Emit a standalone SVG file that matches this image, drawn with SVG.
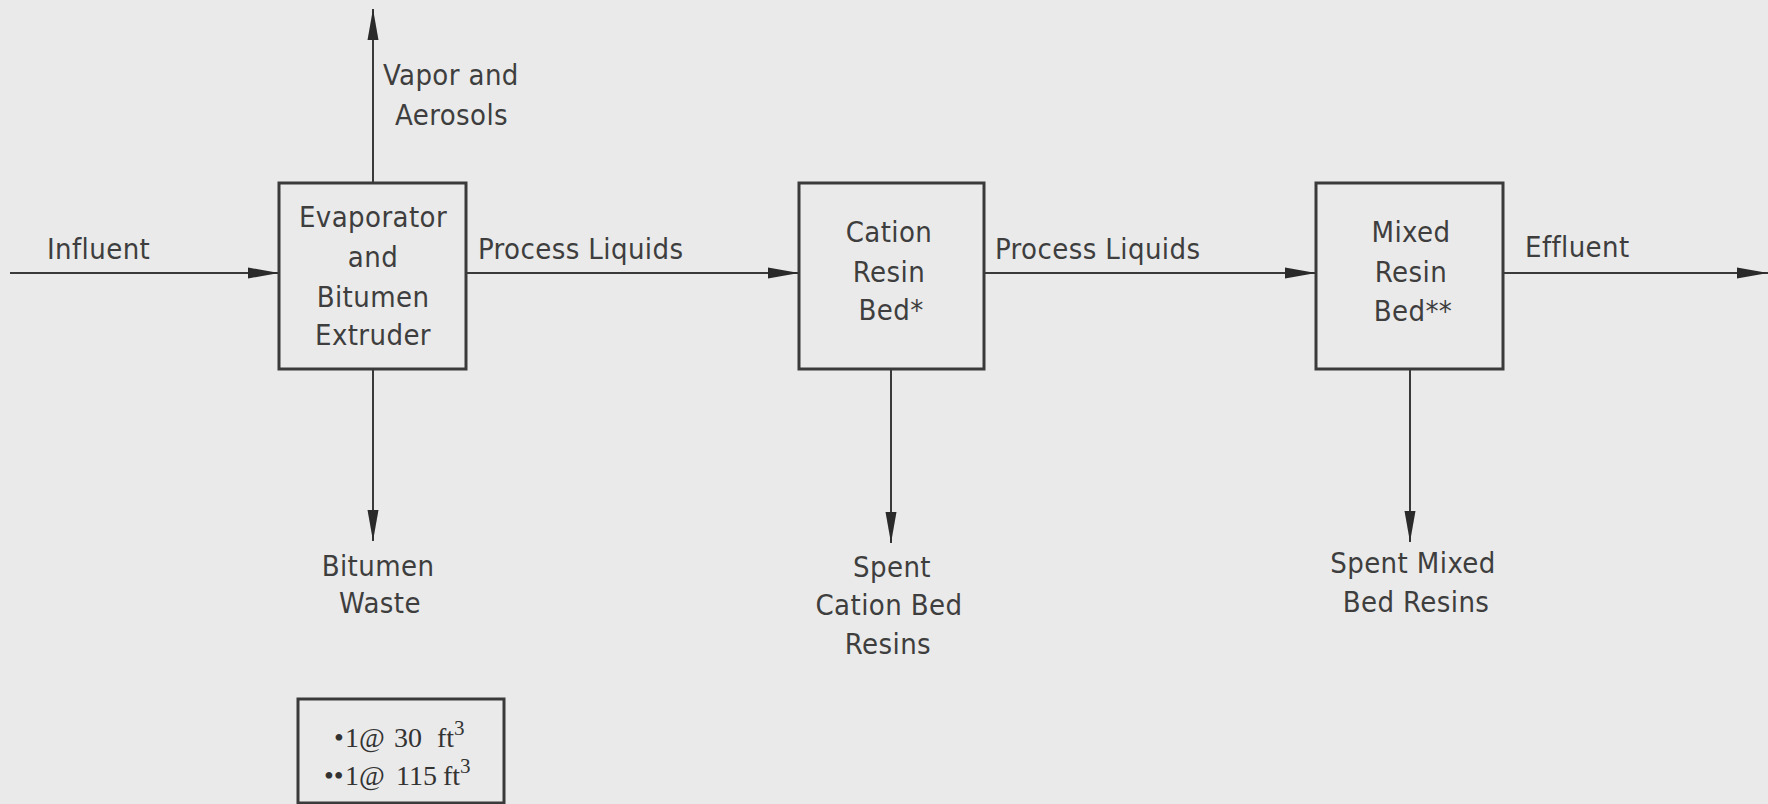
<svg xmlns="http://www.w3.org/2000/svg" width="1768" height="804" viewBox="0 0 1768 804">
<defs>
<style>
.bg{fill:#eaeaea}
.box{fill:none;stroke:#3a3a3a;stroke-width:3}
.ln{fill:none;stroke:#3a3a3a;stroke-width:2}
.t{font-family:"DejaVu Sans Condensed","DejaVu Sans",sans-serif;font-stretch:condensed;font-size:29px;fill:#3e3e3e;letter-spacing:0.4px}
.c{text-anchor:middle}
.s{font-family:"Liberation Serif","Times New Roman",serif;font-size:28px;fill:#333}
.sup{font-size:21px}
</style>
<marker id="ah" markerUnits="userSpaceOnUse" markerWidth="32" markerHeight="14" viewBox="0 -7 32 14" refX="31" refY="0" orient="auto">
<path d="M0,-5.5 L31,0 L0,5.5 Z" fill="#2a2a2a"/>
</marker>
</defs>
<rect class="bg" x="0" y="0" width="1768" height="804"/>
<g id="connectors">
<line class="ln" x1="10" y1="273" x2="279" y2="273" marker-end="url(#ah)"/>
<line class="ln" x1="373" y1="183" x2="373" y2="9" marker-end="url(#ah)"/>
<line class="ln" x1="466" y1="273" x2="799" y2="273" marker-end="url(#ah)"/>
<line class="ln" x1="984" y1="273" x2="1316" y2="273" marker-end="url(#ah)"/>
<line class="ln" x1="1503" y1="273" x2="1768" y2="273" marker-end="url(#ah)"/>
<line class="ln" x1="373" y1="369" x2="373" y2="541" marker-end="url(#ah)"/>
<line class="ln" x1="891" y1="369" x2="891" y2="543" marker-end="url(#ah)"/>
<line class="ln" x1="1410" y1="369" x2="1410" y2="542" marker-end="url(#ah)"/>
<text class="t" x="47" y="259">Influent</text>
<text class="t" x="383" y="85">Vapor and</text>
<text class="t" x="395" y="125">Aerosols</text>
<text class="t" x="478" y="259">Process Liquids</text>
<text class="t" x="995" y="259">Process Liquids</text>
<text class="t" x="1525" y="257">Effluent</text>
<text class="t c" x="378" y="576">Bitumen</text>
<text class="t c" x="380" y="613">Waste</text>
<text class="t c" x="892" y="577">Spent</text>
<text class="t c" x="889" y="615">Cation Bed</text>
<text class="t c" x="888" y="654">Resins</text>
<text class="t c" x="1413" y="573">Spent Mixed</text>
<text class="t c" x="1416" y="612">Bed Resins</text>
</g>
<g id="evaporator">
<rect class="box" x="279" y="183" width="187" height="186"/>
<text class="t c" x="373" y="227">Evaporator</text>
<text class="t c" x="373" y="267">and</text>
<text class="t c" x="373" y="307">Bitumen</text>
<text class="t c" x="373" y="345">Extruder</text>
</g>
<g id="cation">
<rect class="box" x="799" y="183" width="185" height="186"/>
<text class="t c" x="889" y="242">Cation</text>
<text class="t c" x="889" y="282">Resin</text>
<text class="t c" x="891" y="320">Bed*</text>
</g>
<g id="mixed">
<rect class="box" x="1316" y="183" width="187" height="186"/>
<text class="t c" x="1411" y="242">Mixed</text>
<text class="t c" x="1411" y="282">Resin</text>
<text class="t c" x="1413" y="321">Bed**</text>
</g>
<g id="legend">
<rect class="box" x="298" y="699" width="206" height="104"/>
<text class="s" y="747"><tspan x="334">•</tspan><tspan x="345">1@</tspan><tspan x="394">30</tspan><tspan x="437">ft</tspan><tspan class="sup" dy="-12">3</tspan></text>
<text class="s" y="785"><tspan x="324">••</tspan><tspan x="345">1@</tspan><tspan x="396">115</tspan><tspan x="443">ft</tspan><tspan class="sup" dy="-12">3</tspan></text>
</g>
</svg>
